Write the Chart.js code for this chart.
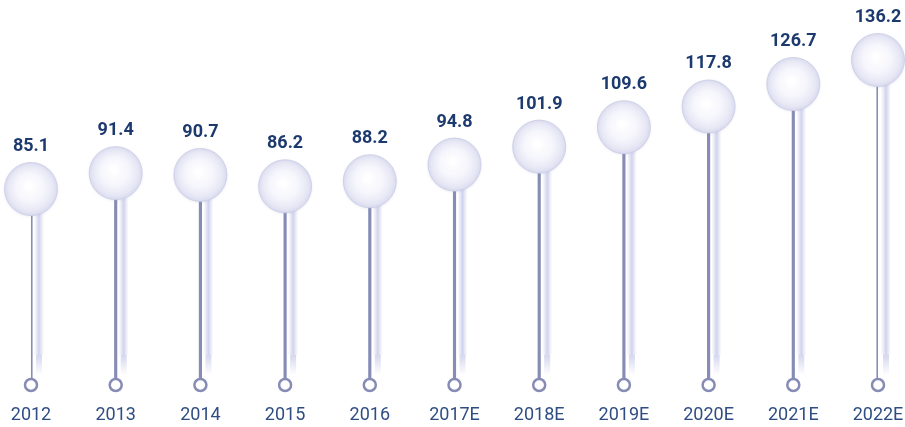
<!DOCTYPE html>
<html>
<head>
<meta charset="utf-8">
<script src="https://cdn.jsdelivr.net/npm/chart.js@4/dist/chart.umd.min.js"></script>
<style>
    html, body { margin: 0; padding: 0; background: #ffffff; }
    #box { width: 905px; height: 427px; position: relative; }
</style>
</head>
<body>
<div id="box"><canvas id="chart"></canvas></div>
<script>

// ------------------------------------------------------
// Données
// ------------------------------------------------------

const years = ["2012", "2013", "2014", "2015", "2016", "2017E", "2018E", "2019E", "2020E", "2021E", "2022E"];
const values = [85.1, 91.4, 90.7, 86.2, 88.2, 94.8, 101.9, 109.6, 117.8, 126.7, 136.2];

const yMin = 7.5;
const yMax = 156;

// ------------------------------------------------------
// Couleurs
// ------------------------------------------------------

const stemColor = "#878cb5";
const valueColor = "#1d3a6e";
const yearColor = "#2f4d83";

// ------------------------------------------------------
// Ombre des tiges + petits cercles + bulles + étiquettes
// ------------------------------------------------------

const lollipopPlugin = {

    id: "lollipop",

    beforeDatasetsDraw(chart) {

        const ctx = chart.ctx;
        const bars = chart.getDatasetMeta(0).data;

        bars.forEach(bar => {

            const x = bar.x + 8;
            const top = bar.y + 18;
            const bottom = bar.base - 10;

            const gh = ctx.createLinearGradient(x - 5, 0, x + 5, 0);
            gh.addColorStop(0, "rgba(214,216,238,0)");
            gh.addColorStop(0.5, "rgba(208,211,236,1)");
            gh.addColorStop(1, "rgba(214,216,238,0)");

            ctx.save();
            ctx.fillStyle = gh;
            ctx.fillRect(x - 5, top, 10, bottom - top - 20);

            // fondu en bas
            const gv = ctx.createLinearGradient(0, bottom - 20, 0, bottom);
            gv.addColorStop(0, "rgba(208,211,236,0.9)");
            gv.addColorStop(1, "rgba(208,211,236,0)");
            ctx.fillStyle = gv;
            ctx.fillRect(x - 3, bottom - 20, 6, 20);
            ctx.restore();

        });

    },

    afterDatasetsDraw(chart) {

        const ctx = chart.ctx;
        const bars = chart.getDatasetMeta(0).data;
        const points = chart.getDatasetMeta(1).data;

        // petits cercles à la base
        bars.forEach(bar => {

            ctx.save();
            ctx.beginPath();
            ctx.arc(bar.x, bar.base, 6, 0, Math.PI * 2);
            ctx.fillStyle = "#ffffff";
            ctx.fill();
            ctx.lineWidth = 2.5;
            ctx.strokeStyle = stemColor;
            ctx.stroke();
            ctx.restore();

        });

        // bulles
        points.forEach((p, i) => {

            const r = 26.5;

            ctx.save();
            ctx.shadowColor = "rgba(150,155,200,0.2)";
            ctx.shadowBlur = 3;
            ctx.shadowOffsetY = 1;

            const g = ctx.createRadialGradient(p.x - 2, p.y - 3, 2, p.x, p.y, r);
            g.addColorStop(0, "#ffffff");
            g.addColorStop(0.5, "#f5f5fc");
            g.addColorStop(0.85, "#e6e7f4");
            g.addColorStop(1, "#d8d9ee");

            ctx.beginPath();
            ctx.arc(p.x, p.y, r, 0, Math.PI * 2);
            ctx.fillStyle = g;
            ctx.fill();
            ctx.shadowColor = "transparent";
            ctx.lineWidth = 1;
            ctx.strokeStyle = "rgba(205,207,231,0.9)";
            ctx.stroke();
            ctx.restore();

            // valeur
            ctx.save();
            ctx.font = "bold 18px Roboto";
            ctx.fillStyle = valueColor;
            ctx.textAlign = "center";
            ctx.textBaseline = "alphabetic";
            ctx.fillText(values[i].toFixed(1), p.x, p.y - 38);
            ctx.restore();

        });

    }

};

// ------------------------------------------------------
// Graphique
// ------------------------------------------------------

new Chart(document.getElementById("chart"), {

    data: {

        labels: years,

        datasets: [

            {
                type: "bar",
                data: values.map(v => [yMin, v]),
                backgroundColor: stemColor,
                barThickness: 2.5,
                borderSkipped: false,
                order: 2
            },

            {
                type: "line",
                data: values,
                showLine: false,
                pointRadius: 0,
                pointHoverRadius: 0,
                order: 1
            }

        ]

    },

    options: {

        responsive: true,
        maintainAspectRatio: false,
        animation: false,

        layout: {
            padding: { top: 10, left: 31, right: 27, bottom: 0 }
        },

        plugins: {
            legend: { display: false },
            tooltip: { enabled: false }
        },

        scales: {

            x: {
                offset: false,
                grid: { display: false, drawTicks: false },
                border: { display: false },
                ticks: {
                    padding: 20,
                    color: yearColor,
                    font: { family: "Roboto", size: 18 }
                },
                afterFit(scale) {
                    scale.height = 42;
                    scale.paddingLeft = 0;
                    scale.paddingRight = 0;
                }
            },

            y: {
                display: false,
                min: yMin,
                max: yMax
            }

        }

    },

    plugins: [lollipopPlugin]

});

</script>
</body>
</html>
